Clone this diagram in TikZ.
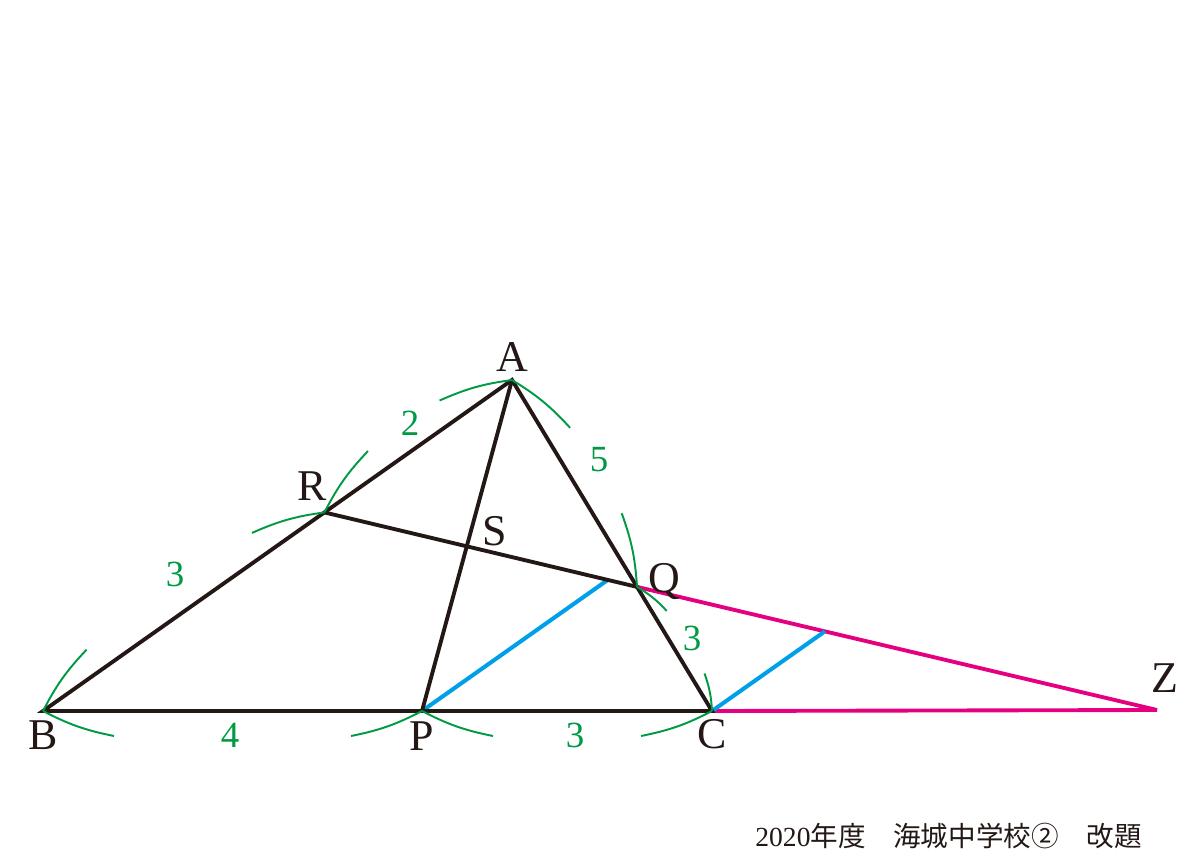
\documentclass[tikz,border=0pt]{standalone}
\usepackage{fontspec}
\setmainfont{Liberation Serif}
\newfontfamily\jpfont{Noto Sans CJK JP}
\usetikzlibrary{positioning,calc}

\definecolor{inkblack}{HTML}{231815}
\definecolor{markgreen}{HTML}{009944}
\definecolor{auxblue}{HTML}{00A0E9}
\definecolor{extmagenta}{HTML}{E4007F}

% end pieces of a length arc, drawn outside the segment
\newcommand{\lenarc}[4]{%
  \draw[lenmark] (#1) to[bend left=8] ($(#1)!#3!(#2)!#4!90:(#2)$);
  \draw[lenmark] (#2) to[bend right=8] ($(#2)!#3!(#1)!#4!-90:(#1)$);
}

\begin{document}
\begin{tikzpicture}[
    seg/.style={inkblack, line width=2.2pt},
    aux/.style={auxblue, line width=2.3pt},
    ext/.style={extmagenta, line width=2.2pt},
    lenmark/.style={markgreen, line width=1.1pt},
    vlabel/.style={inkblack, inner sep=0pt, font=\fontsize{25}{25}\selectfont},
    nlabel/.style={markgreen, inner sep=0pt, font=\fontsize{21}{21}\selectfont}
]
\useasboundingbox (0,0) rectangle (24,17.14);

% vertices
\coordinate (A) at (10.24,9.54);
\coordinate (B) at (0.86,2.92);
\coordinate (P) at (8.44,2.92);
\coordinate (C) at (14.24,2.92);
\coordinate (Z) at (23.14,2.94);
\coordinate (R) at ($(A)!0.4!(B)$);
\coordinate (Q) at ($(A)!0.625!(C)$);
\coordinate (S) at (intersection of A--P and R--Q);

% parallels to BA
\coordinate (Pdir) at ($(P)+(A)-(B)$);
\coordinate (Cdir) at ($(C)+(A)-(B)$);
\coordinate (U) at (intersection of P--Pdir and R--Q);
\coordinate (V) at (intersection of C--Cdir and Q--Z);

\draw[ext] (Q) -- (Z);
\draw[ext] (C) -- (Z);
\draw[aux] (P) -- (U);
\draw[aux] (C) -- (V);
\draw[seg] (B) -- (A) -- (C) -- cycle;
\draw[seg] (A) -- (P);
\draw[seg] (R) -- (Q);

% length marks
\lenarc{B}{R}{1.42cm}{0.5cm}
\lenarc{R}{A}{1.42cm}{0.5cm}
\lenarc{A}{Q}{1.42cm}{0.5cm}
\lenarc{Q}{C}{0.72cm}{0.26cm}
\lenarc{C}{P}{1.42cm}{0.5cm}
\lenarc{P}{B}{1.42cm}{0.5cm}

\node[nlabel] (len2) at (8.20,8.67) {2};
\node[nlabel] (len5) at (11.98,7.94) {5};
\node[nlabel] (lenBR) at (3.50,5.65) {3};
\node[nlabel] (lenQC) at (13.84,4.38) {3};
\node[nlabel] (len4) at (4.60,2.44) {4};
\node[nlabel] (lenPC) at (11.50,2.44) {3};

% point names
\node[vlabel, above=0.16cm of A] (lA) {A};
\node[vlabel, below=0.18cm of B] (lB) {B};
\node[vlabel, below=0.2cm of P] (lP) {P};
\node[vlabel, below=0.16cm of C] (lC) {C};
\node[vlabel, above=0.24cm of R, xshift=-0.24cm] (lR) {R};
\node[vlabel, right=0.22cm of Q, yshift=0.1cm] (lQ) {Q};
\node[vlabel, above right=0cm and 0.3cm of S] (lS) {S};
\node[vlabel, above=0.34cm of Z, xshift=0.16cm] (lZ) {Z};

\node[inkblack, anchor=base west, inner sep=0pt, font=\fontsize{15.7}{18}\selectfont] (src) at (15.10,0.22) {2020{\jpfont 年度　海城中学校②　改題}};
\end{tikzpicture}
\end{document}
